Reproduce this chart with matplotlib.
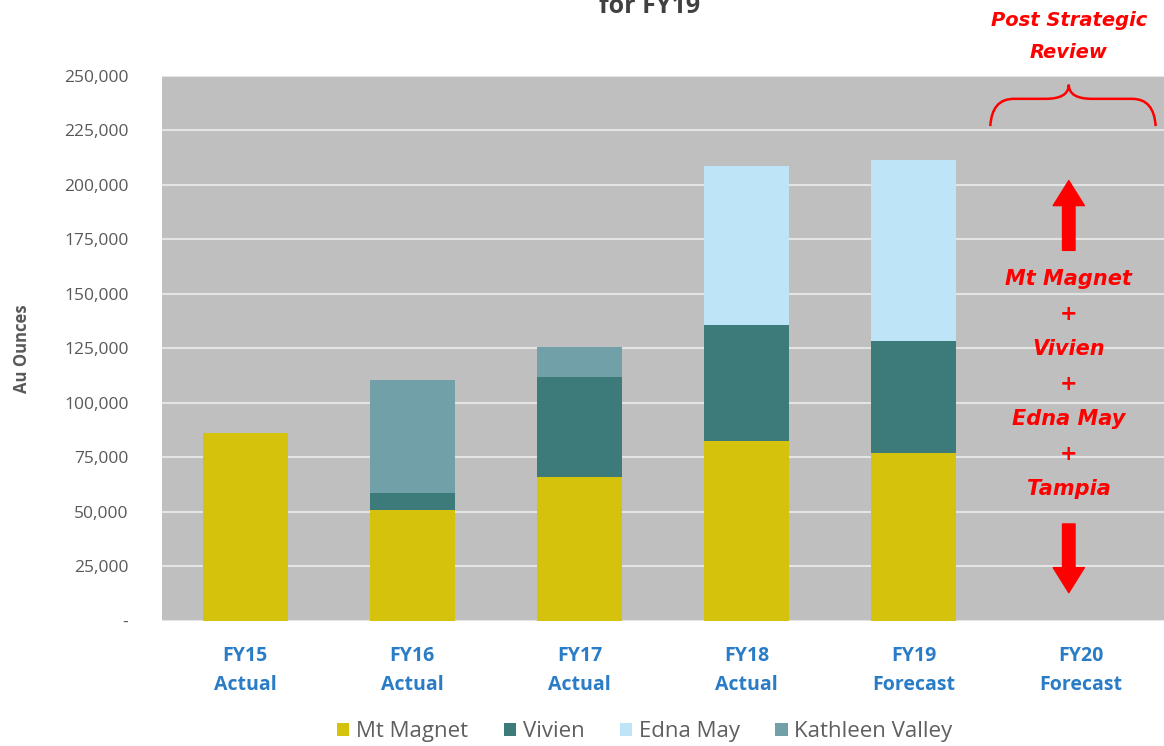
import numpy as np
import matplotlib.pyplot as plt
from matplotlib.path import Path
from matplotlib.patches import PathPatch

# Data
categories = ['FY15\nActual', 'FY16\nActual', 'FY17\nActual', 'FY18\nActual',
              'FY19\nForecast', 'FY20\nForecast']
mt_magnet = [86000, 51000, 66000, 82600, 77000, 0]
vivien = [0, 7700, 46000, 53200, 51400, 0]
edna_may = [0, 0, 0, 72900, 83000, 0]
kathleen_valley = [0, 51900, 13700, 0, 0, 0]

series = [('Mt Magnet', mt_magnet, '#D4C20C'),
          ('Vivien', vivien, '#3D7B7B'),
          ('Edna May', edna_may, '#BDE4F7'),
          ('Kathleen Valley', kathleen_valley, '#72A0A8')]

plt.rcParams['font.family'] = ['Open Sans', 'DejaVu Sans']

fig = plt.figure(figsize=(11.64, 7.46), dpi=100)
ax = fig.add_axes([0.139, 0.1676, 0.861, 0.7306])
ax.set_facecolor('#BFBFBF')

x = np.arange(len(categories))
bottom = np.zeros(len(categories))
for name, vals, col in series:
    vals = np.array(vals, dtype=float)
    ax.bar(x, vals, 0.51, bottom=bottom, color=col, label=name, zorder=3)
    bottom += vals

ax.set_xlim(-0.5, 5.5)
ax.set_ylim(0, 250000)
ax.set_yticks(np.arange(0, 250001, 25000))
ax.set_yticklabels(['-'] + [f'{v:,}' for v in range(25000, 250001, 25000)],
                   fontsize=12.5, color='#595959')
ax.set_xticks(x)
ax.set_xticklabels(categories, fontsize=14, fontweight='bold', color='#2A7CC7',
                   linespacing=1.6)
ax.tick_params(length=0, axis='y', pad=24)
ax.tick_params(length=0, axis='x', pad=18)
ax.grid(axis='y', color='#E4E4E4', lw=1.5, zorder=1)
for s in ax.spines.values():
    s.set_visible(False)

ax.set_ylabel('Au Ounces', fontsize=12, fontweight='bold', color='#595959',
              labelpad=24)

leg = ax.legend(loc='center', bbox_to_anchor=(0.482, -0.203), ncol=4,
                frameon=False, fontsize=16, handlelength=0.55, handleheight=0.55,
                handletextpad=0.3, columnspacing=1.6)
for t in leg.get_texts():
    t.set_color('#5F5F5F')

# title, cut at the top edge as in the source
fig.text(0.558, 0.983, 'for FY19', ha='center', va='baseline', fontsize=18,
         fontweight='bold', color='#404040')

# FY20 annotations
red = '#FF0000'
xc = 4.93
ann_font = dict(family='DejaVu Sans', fontweight='bold', style='italic', color=red)
ax.text(xc, 1.072, 'Post Strategic\nReview', transform=ax.get_xaxis_transform(),
        ha='center', va='center', fontsize=14, linespacing=1.85, clip_on=False,
        **ann_font)

# curly brace
x0, x1 = 4.46, 5.45
ylo, ymid, ytop = 227000, 239500, 246000
d = 0.14
verts = [(x0, ylo), (x0 + 0.01, ymid), (x0 + d, ymid), (x0 + d, ymid),
         (xc - d, ymid), (xc, ymid), (xc, ytop), (xc, ymid),
         (xc + d, ymid), (x1 - d, ymid), (x1 - d, ymid), (x1 - 0.01, ymid), (x1, ylo)]
codes = [Path.MOVETO, Path.CURVE3, Path.CURVE3, Path.LINETO,
         Path.LINETO, Path.CURVE3, Path.CURVE3, Path.CURVE3,
         Path.CURVE3, Path.LINETO, Path.LINETO, Path.CURVE3, Path.CURVE3]
ax.add_patch(PathPatch(Path(verts, codes), fill=False, ec=red, lw=1.8, zorder=5))

ax.text(xc, 108700, 'Mt Magnet\n+\nVivien\n+\nEdna May\n+\nTampia', ha='center',
        va='center', fontsize=15, linespacing=1.93, zorder=5, **ann_font)

arrow_kw = dict(arrowstyle='simple,head_width=1.5,head_length=1.2,tail_width=0.6',
                color=red, mutation_scale=15, shrinkA=0, shrinkB=0)
ax.annotate('', xy=(xc, 202000), xytext=(xc, 170000), arrowprops=arrow_kw, zorder=5)
ax.annotate('', xy=(xc, 13000), xytext=(xc, 44500), arrowprops=arrow_kw, zorder=5)

fig.savefig('out.png', dpi=100)
